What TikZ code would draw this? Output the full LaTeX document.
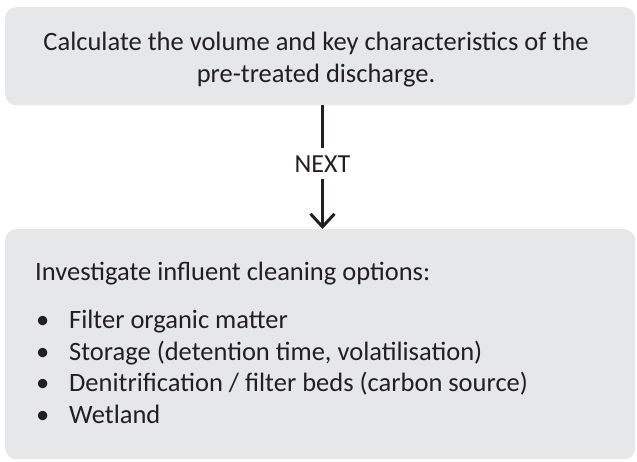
\documentclass[tikz,border=0pt]{standalone}
\usepackage{fontspec}
\setmainfont{Carlito}
\usepackage{tikz}
\usetikzlibrary{positioning,arrows.meta}
\definecolor{BoxGray}{RGB}{230,231,232}
\definecolor{InkText}{RGB}{35,31,32}

\begin{document}
\begin{tikzpicture}[x=1pt, y=-1pt,
    stepbox/.style={rectangle, rounded corners=11pt, fill=BoxGray,
        minimum width=630pt, anchor=north west, inner sep=0pt},
    boxtext/.style={font=\fontsize{26.5}{32}\selectfont, text=InkText, inner sep=0pt},
    nexttext/.style={font=\fontsize{26}{30}\selectfont, text=InkText, inner xsep=3pt, inner ysep=7pt},
    flowline/.style={draw=InkText, line width=3pt}
]
\useasboundingbox (0,0) rectangle (637,461);
% boxes
\node[stepbox, minimum height=98pt] (calc) at (5,7) {};
\node[stepbox, minimum height=230pt] (invest) at (5,229) {};
% texts
\node[boxtext, anchor=base] (calcone) at (316,50) {Calculate the volume and key characteristics of the};
\node[boxtext, anchor=base] (calctwo) at (316,82) {pre-treated discharge.};
\node[boxtext, anchor=base west] (investhead) at (35,280) {Investigate influent cleaning options:};
% list: base anchor sits on the last line
\node[boxtext, anchor=base west, align=left,
    font=\fontsize{26.5}{31.5}\selectfont] (investlist) at (35,423)
    {\makebox[34pt][l]{\hspace{1pt}\textbullet}Filter organic matter\\
     \makebox[34pt][l]{\hspace{1pt}\textbullet}Storage (detention time, volatilisation)\\
     \makebox[34pt][l]{\hspace{1pt}\textbullet}Denitrification / filter beds (carbon source)\\
     \makebox[34pt][l]{\hspace{1pt}\textbullet}Wetland};
\node[nexttext, anchor=base] (next) at (322.5,172) {NEXT};
% connector
\draw[flowline] (calc.south -| next) -- (next.north);
\draw[flowline, -{Straight Barb[length=13pt, width=24pt, line width=3pt]}] (next.south) -- (invest.north -| next);
\end{tikzpicture}
\end{document}
